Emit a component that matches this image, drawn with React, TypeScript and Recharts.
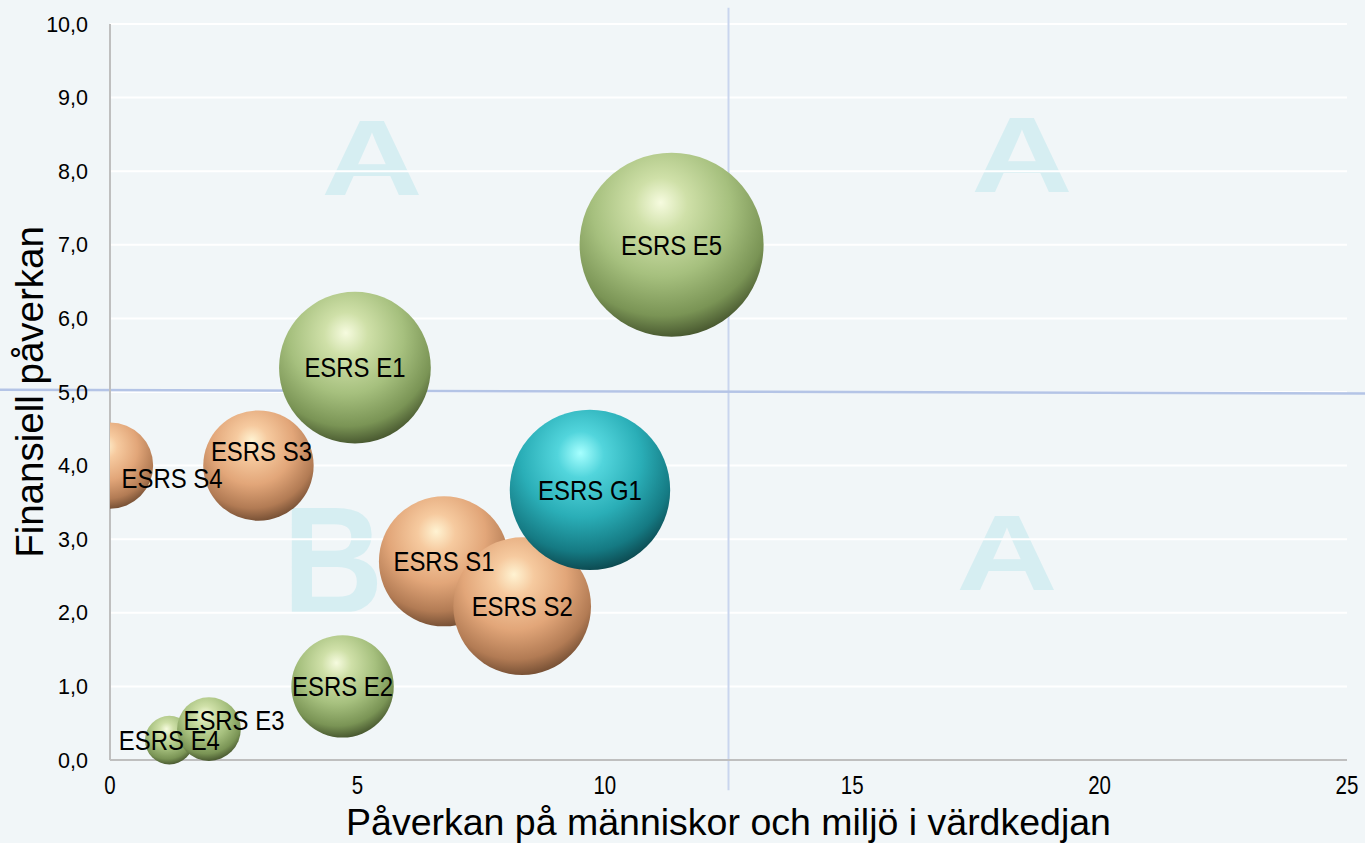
import React from 'react';
import {
  ScatterChart,
  Scatter,
  XAxis,
  YAxis,
  ZAxis,
  CartesianGrid,
  ReferenceLine,
  LabelList,
} from 'recharts';

// bubbles, in drawing order (later ones sit on top)
const names = ['ESRS E4', 'ESRS E3', 'ESRS E2', 'ESRS S4', 'ESRS S3', 'ESRS E1', 'ESRS S1', 'ESRS S2', 'ESRS G1', 'ESRS E5'];
const groups = ['E', 'E', 'E', 'S', 'S', 'E', 'S', 'S', 'G', 'E'];
const impactValues = [1.2, 2.0, 4.7, 0, 3.0, 4.95, 6.75, 8.33, 9.7, 11.35];
const financialValues = [0.27, 0.42, 1.0, 4.0, 4.0, 5.33, 2.7, 2.09, 3.67, 7.0];
const sizeValues = [0.7, 1.2, 3.1, 2.2, 3.6, 6.8, 5.0, 5.6, 7.6, 10];

const xTicks = [0, 5, 10, 15, 20, 25];
const yTicks = [0, 1, 2, 3, 4, 5, 6, 7, 8, 9, 10];

const points = names.map((name, i) => ({
  name,
  group: groups[i],
  x: impactValues[i],
  y: financialValues[i],
  z: sizeValues[i],
}));

// sphere shading per group
const sphereStops: Record<string, string[]> = {
  E: ['#F6FBDF', '#CFE0A8', '#A6C07E', '#7A9455', '#3A4725'],
  S: ['#FFF3D2', '#F6CA9F', '#E2A679', '#B27B54', '#66442C'],
  G: ['#A6FFFF', '#52D5DC', '#2AAEB7', '#157A83', '#0A3C42'],
};

// label nudges (px) where Excel moved them off centre
const labelNudge: Record<string, [number, number]> = {
  'ESRS S3': [3, -14],
  'ESRS S4': [62, 13],
  'ESRS E3': [25, -9],
};

const FONT = "'Liberation Sans', Arial, sans-serif";
const fmtY = (v: number) => v.toFixed(1).replace('.', ',');

const Sphere = (props: any) => {
  const { cx, cy, width, index, payload } = props;
  const r = width / 2;
  const stops = sphereStops[payload.group];
  const id = `sphere-${index}`;
  return (
    <g>
      <defs>
        <radialGradient id={id} cx="45%" cy="32%" r="72%" fx="44%" fy="27%">
          <stop offset="0%" stopColor={stops[0]} />
          <stop offset="20%" stopColor={stops[1]} />
          <stop offset="52%" stopColor={stops[2]} />
          <stop offset="80%" stopColor={stops[3]} />
          <stop offset="100%" stopColor={stops[4]} />
        </radialGradient>
      </defs>
      <circle cx={cx} cy={cy} r={r} fill={`url(#${id})`} />
    </g>
  );
};

// condensed look (Calibri-ish widths) by squeezing Liberation Sans
const BubbleLabel = (props: any) => {
  const vb = props.viewBox || props;
  const name = String(props.value);
  const [dx, dy] = labelNudge[name] || [0, 0];
  const cx = vb.x + vb.width / 2 + dx;
  const cy = vb.y + vb.height / 2 + dy;
  return (
    <text
      transform={`translate(${cx},${cy}) scale(0.84,1)`}
      x={0}
      y={0}
      textAnchor="middle"
      dominantBaseline="central"
      fontSize={28.5}
      fontFamily={FONT}
      fill="#000"
    >
      {name}
    </text>
  );
};

const XTick = (props: any) => {
  const { x, payload } = props;
  return (
    <text
      transform={`translate(${x},794) scale(0.82,1)`}
      x={0}
      y={0}
      textAnchor="middle"
      fontSize={25}
      fontFamily={FONT}
      fill="#000"
    >
      {payload.value}
    </text>
  );
};

const watermark = '#D6EEF2';

export default function App() {
  return (
    <div
      style={{
        position: 'absolute',
        left: 0,
        top: 0,
        width: 1365,
        height: 843,
        background: '#F1F6F8',
        overflow: 'hidden',
      }}
    >
      <svg width={1365} height={843} style={{ position: 'absolute', left: 0, top: 0 }}>
        <g fill={watermark} fontFamily={FONT} fontWeight="bold" textAnchor="middle">
          <text x={0} y={0} fontSize={108} transform="translate(372,195) scale(1.3,1)">A</text>
          <text x={0} y={0} fontSize={108} transform="translate(1022,192) scale(1.3,1)">A</text>
          <text x={0} y={0} fontSize={108} transform="translate(1007,590) scale(1.3,1)">A</text>
          <text x={0} y={0} fontSize={152} transform="translate(333,613) scale(0.92,1)">B</text>
        </g>
      </svg>
      <div style={{ position: 'absolute', left: 0, top: 0 }}>
        <ScatterChart width={1365} height={843} margin={{ top: 24, right: 18, left: 0, bottom: 0 }}>
          <CartesianGrid vertical={false} stroke="#FFFFFF" strokeWidth={2} />
          <XAxis
            type="number"
            dataKey="x"
            domain={[0, 25]}
            ticks={xTicks}
            allowDataOverflow
            height={83}
            axisLine={{ stroke: '#BFBFBF', strokeWidth: 2 }}
            tickLine={false}
            tick={<XTick />}
            label={{
              value: 'Påverkan på människor och miljö i värdkedjan',
              position: 'center',
              dy: 20,
              style: { fontSize: 37.5, fill: '#000', fontFamily: FONT },
            }}
          />
          <YAxis
            type="number"
            dataKey="y"
            domain={[0, 10]}
            ticks={yTicks}
            tickFormatter={fmtY}
            width={110}
            axisLine={{ stroke: '#BFBFBF', strokeWidth: 2 }}
            tickLine={false}
            tickMargin={16}
            tick={{ fontSize: 21.5, fill: '#000', fontFamily: FONT }}
            label={{
              value: 'Finansiell påverkan',
              angle: -90,
              position: 'center',
              dx: -26,
              style: { fontSize: 38.5, fill: '#000', fontFamily: FONT },
            }}
          />
          <ZAxis type="number" dataKey="z" domain={[0, 10]} range={[0, Math.PI * 92 * 92]} />
          <ReferenceLine
            segment={[
              { x: 12.5, y: 10.22 },
              { x: 12.5, y: -0.41 },
            ]}
            ifOverflow="visible"
            stroke="#C9D5EE"
            strokeWidth={2}
          />
          <ReferenceLine
            segment={[
              { x: -2.23, y: 5.03 },
              { x: 25.37, y: 4.98 },
            ]}
            ifOverflow="visible"
            stroke="#B4C4E6"
            strokeWidth={2.5}
          />
          <Scatter data={points} shape={<Sphere />} isAnimationActive={false}>
            <LabelList dataKey="name" content={<BubbleLabel />} />
          </Scatter>
        </ScatterChart>
      </div>
    </div>
  );
}
